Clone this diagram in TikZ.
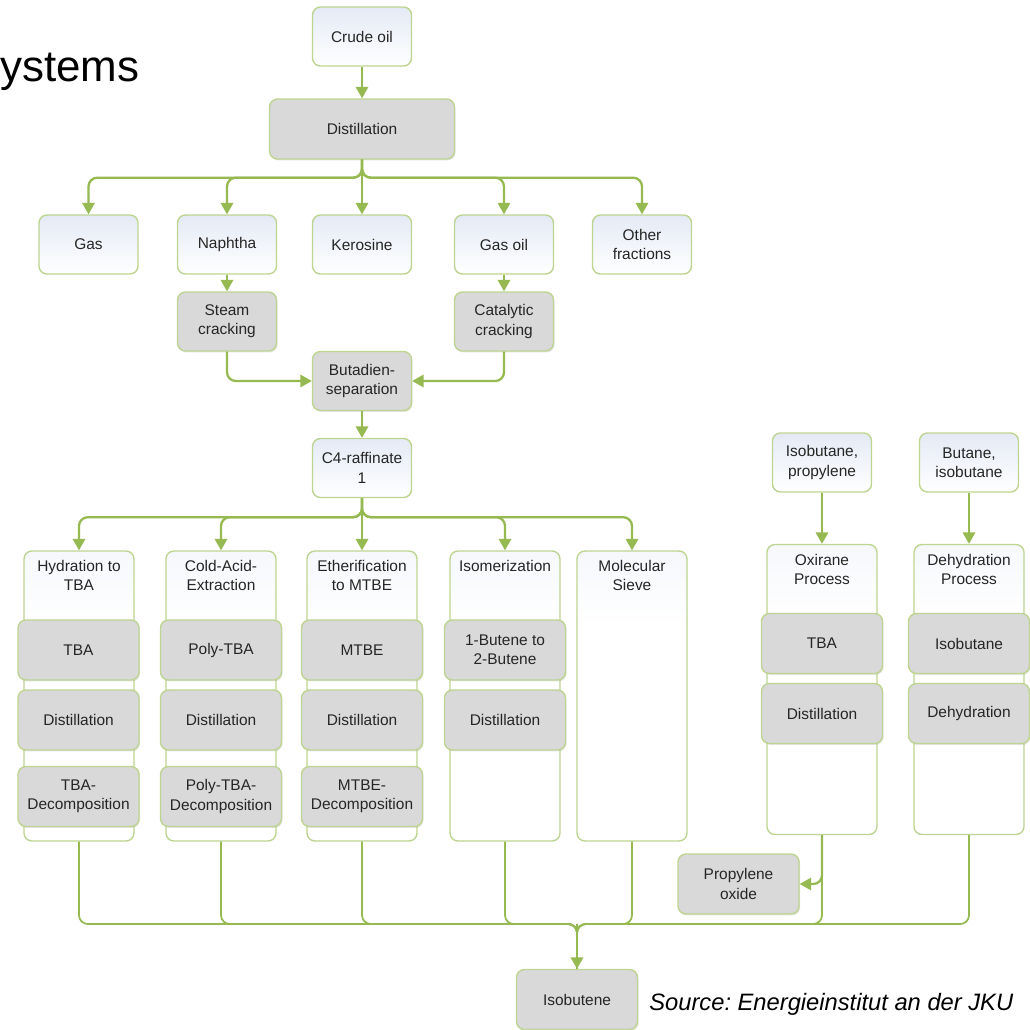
\documentclass[tikz,border=0pt]{standalone}
\usepackage{fontspec}
\setmainfont{Liberation Sans}
\usetikzlibrary{positioning,arrows.meta,shadows}
\definecolor{flowgreen}{RGB}{150,185,82}
\definecolor{boxline}{RGB}{190,212,145}
\definecolor{procgray}{RGB}{217,217,217}
\definecolor{paleblue}{RGB}{228,234,245}
\pgfdeclareverticalshading{lanefade}{100bp}{color(0bp)=(white); color(62bp)=(white); color(100bp)=(paleblue)}
\frenchspacing
\begin{document}
\begin{tikzpicture}
	[	x=0.02cm, y=-0.02cm,
	font=\fontsize{8.8}{11}\selectfont,
	rbox/.style={rectangle, rounded corners=4.5pt, draw=boxline, line width=0.8pt, align=center, inner sep=2pt, text=black!85},
	item/.style={rbox, top color=paleblue, bottom color=white, minimum width=1.98cm, minimum height=1.18cm},
	proc/.style={rbox, fill=procgray, minimum width=2.42cm, minimum height=1.2cm, drop shadow={opacity=0.2, shadow xshift=0.6pt, shadow yshift=-0.8pt}},
	smallproc/.style={proc, minimum width=1.98cm, minimum height=1.18cm},
	lane/.style={rbox, shading=lanefade, minimum width=2.2cm, minimum height=5.8cm},
	lanehead/.style={draw=none, align=center, inner sep=0pt, text=black!85},
	flow/.style={draw=flowgreen, line width=1.3pt, rounded corners=5pt, -{Triangle[width=7pt,length=6.5pt]}},
	merge/.style={draw=flowgreen, line width=1pt, rounded corners=5pt}
	]
	\useasboundingbox (0,0) rectangle (1030,1030);

	\node[anchor=base west, inner sep=0pt, font=\fontsize{25}{30}\selectfont] (title) at (0,82) {ystems};
	\node[anchor=base west, inner sep=0pt, font=\fontsize{13.5}{16}\selectfont\itshape] (source) at (649,1010) {Source: Energieinstitut an der JKU};

	% refinery part
	\node[item] (crude) at (362,36.5) {Crude oil};
	\node[proc, minimum width=3.7cm] (dist) at (362,129) {Distillation};
	\node[item] (gas) at (88.5,244.5) {Gas};
	\node[item] (naph) at (227,244.5) {Naphtha};
	\node[item] (kero) at (362,244.5) {Kerosine};
	\node[item] (gasoil) at (504,244.5) {Gas oil};
	\node[item] (other) at (642,244.5) {Other\\fractions};
	\node[smallproc] (steam) at (227,321.5) {Steam\\cracking};
	\node[smallproc] (catcr) at (504,321.5) {Catalytic\\cracking};
	\node[smallproc] (buta) at (362,381) {Butadien-\\separation};
	\node[item] (raff) at (362,468) {C4-raffinate\\1};

	% process lanes
	\node[lane] (hyd) at (79,696) {};
	\node[lane] (cold) at (221,696) {};
	\node[lane] (ether) at (362,696) {};
	\node[lane] (isom) at (505,696) {};
	\node[lane] (sieve) at (632,696) {};
	\node[lane] (oxi) at (822,689.5) {};
	\node[lane] (dehyd) at (969,689.5) {};
	\node[lanehead, below=5.5pt of hyd.north] (hydHead) {Hydration to\\TBA};
	\node[lanehead, below=5.5pt of cold.north] (coldHead) {Cold-Acid-\\Extraction};
	\node[lanehead, below=5.5pt of ether.north] (etherHead) {Etherification\\to MTBE};
	\node[lanehead, below=5.5pt of isom.north] (isomHead) {Isomerization};
	\node[lanehead, below=5.5pt of sieve.north] (sieveHead) {Molecular\\Sieve};
	\node[lanehead, below=5.5pt of oxi.north] (oxiHead) {Oxirane\\Process};
	\node[lanehead, below=5.5pt of dehyd.north] (dehydHead) {Dehydration\\Process};

	\node[proc] (tba) at (78.5,650) {TBA};
	\node[proc] (hydDist) at (78.5,720) {Distillation};
	\node[proc] (tbaDec) at (78.5,796.5) {TBA-\\Decomposition};
	\node[proc] (ptba) at (221,650) {Poly-TBA};
	\node[proc] (coldDist) at (221,720) {Distillation};
	\node[proc] (ptbaDec) at (221,796.5) {Poly-TBA-\\Decomposition};
	\node[proc] (mtbe) at (362,650) {MTBE};
	\node[proc] (etherDist) at (362,720) {Distillation};
	\node[proc] (mtbeDec) at (362,796.5) {MTBE-\\Decomposition};
	\node[proc] (butene) at (505,650) {1-Butene to\\2-Butene};
	\node[proc] (isomDist) at (505,720) {Distillation};

	\node[item] (ibprop) at (822,462.5) {Isobutane,\\propylene};
	\node[item] (butib) at (969,462.5) {Butane,\\isobutane};
	\node[proc] (oxiTba) at (822,643.5) {TBA};
	\node[proc] (oxiDist) at (822,713.5) {Distillation};
	\node[proc] (dhIsob) at (969,643.5) {Isobutane};
	\node[proc] (dhDehy) at (969,713.5) {Dehydration};
	\node[proc] (propox) at (738.5,884) {Propylene\\oxide};
	\node[proc] (isob) at (577,999.5) {Isobutene};

	% connectors
	\draw[flow] (crude) -- (dist);
	\foreach \f in {gas,naph,gasoil,other}
		\draw[flow] (dist.south) -- ++(0,18) -| (\f.north);
	\draw[flow] (dist) -- (kero);
	\draw[flow] (naph) -- (steam);
	\draw[flow] (gasoil) -- (catcr);
	\draw[flow] (steam.south) |- (buta.west);
	\draw[flow] (catcr.south) |- (buta.east);
	\draw[flow] (buta) -- (raff);
	\foreach \c in {hyd,cold,isom,sieve}
		\draw[flow] (raff.south) -- ++(0,19) -| (\c.north);
	\draw[flow] (raff) -- (ether);
	\draw[flow] (ibprop) -- (oxi);
	\draw[flow] (butib) -- (dehyd);
	\draw[flow] (oxi.south) |- (propox.east);

	\coordinate (join) at (577,924);
	\foreach \c in {hyd,cold,ether,isom,sieve,oxi,dehyd}
		\draw[merge] (\c.south) |- (join) -- (isob.north);
	\draw[flow] (join) -- (isob.north);
\end{tikzpicture}
\end{document}
